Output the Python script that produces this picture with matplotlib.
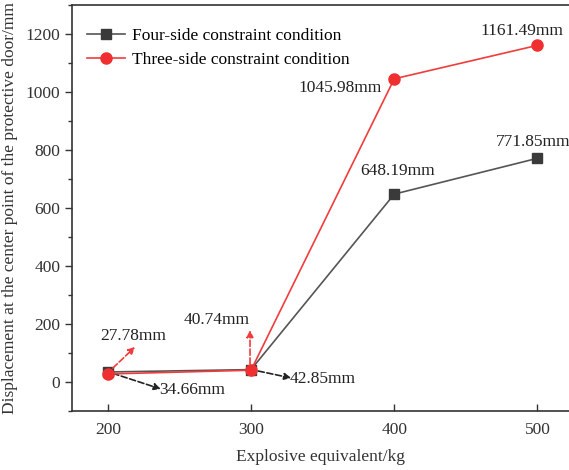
import matplotlib.pyplot as plt
import numpy as np

plt.rcParams['font.family'] = ['Liberation Serif', 'DejaVu Serif']

charge = [200, 300, 400, 500]
four_side = [34.66, 42.85, 648.19, 771.85]
three_side = [27.78, 40.74, 1045.98, 1161.49]
four_label = 'Four-side constraint condition'
three_label = 'Three-side constraint condition'

fig = plt.figure(figsize=(5.69, 4.70), dpi=100)
ax = fig.add_axes([0.1265, 0.1255, 0.8735, 0.8635])

ax.plot(charge, four_side, color='#555555', lw=1.2, marker='s', ms=7,
        mfc='#3a3a3a', mec='#3a3a3a', label=four_label, zorder=3)
ax.plot(charge, three_side, color='#f03c3c', lw=1.2, marker='o', ms=8,
        mfc='#f03030', mec='#f03030', label=three_label, zorder=4)

ax.set_xlim(175, 522)
ax.set_ylim(-100, 1300)
ax.set_xticks(charge)
ax.set_yticks(np.arange(0, 1201, 200))
ax.set_yticks(np.arange(-100, 1301, 100), minor=True)

ax.spines['right'].set_visible(False)
for s in ['top', 'bottom', 'left']:
    ax.spines[s].set_linewidth(1.2)
    ax.spines[s].set_color('#333333')
ax.tick_params(axis='x', direction='in', length=5, width=1, labelsize=12.5,
               colors='#333333', pad=8)
ax.tick_params(axis='y', direction='out', length=5, width=1, labelsize=12.5,
               colors='#333333')
ax.tick_params(axis='y', which='minor', direction='out', length=3, width=1,
               colors='#333333')

ax.set_xlabel('Explosive equivalent/kg', fontsize=12.5, color='#333333',
              labelpad=8)
ax.set_ylabel('Displacement at the center point of the protective door/mm',
              fontsize=12.5, color='#333333', labelpad=5)

fs = 12.5
tc = '#222222'
# value labels at 400 and 500
ax.text(402, 728, '648.19mm', ha='center', va='center', fontsize=fs, color=tc)
ax.text(497, 828, '771.85mm', ha='center', va='center', fontsize=fs, color=tc)
ax.text(362, 1014, '1045.98mm', ha='center', va='center', fontsize=fs, color=tc)
ax.text(489, 1212, '1161.49mm', ha='center', va='center', fontsize=fs, color=tc)

# dashed arrows near 200 and 300
red_arrow = dict(arrowstyle='-|>', ls='--', color='#f03c3c', lw=1.2,
                 mutation_scale=10, shrinkA=0, shrinkB=0)
blk_arrow = dict(arrowstyle='-|>', ls='--', color='#222222', lw=1.2,
                 mutation_scale=10, shrinkA=0, shrinkB=0)
ax.annotate('', xy=(219, 121), xytext=(203.5, 48), arrowprops=red_arrow)
ax.text(218, 159, '27.78mm', ha='center', va='center', fontsize=fs, color=tc)
ax.annotate('', xy=(237, -24), xytext=(203.5, 30), arrowprops=blk_arrow)
ax.text(236, -28, '34.66mm', ha='left', va='center', fontsize=fs, color=tc)
ax.annotate('', xy=(299.3, 179), xytext=(299.3, 62), arrowprops=red_arrow)
ax.text(276, 214, '40.74mm', ha='center', va='center', fontsize=fs, color=tc)
ax.annotate('', xy=(328, 14), xytext=(305, 38), arrowprops=blk_arrow)
ax.text(327, 12, '42.85mm', ha='left', va='center', fontsize=fs, color=tc)

ax.legend(loc='upper left', bbox_to_anchor=(0.005, 0.975), frameon=False,
          fontsize=fs, handlelength=2.2, borderaxespad=0.3, labelspacing=0.45,
          handletextpad=0.4)

fig.savefig('out.png', dpi=100)
